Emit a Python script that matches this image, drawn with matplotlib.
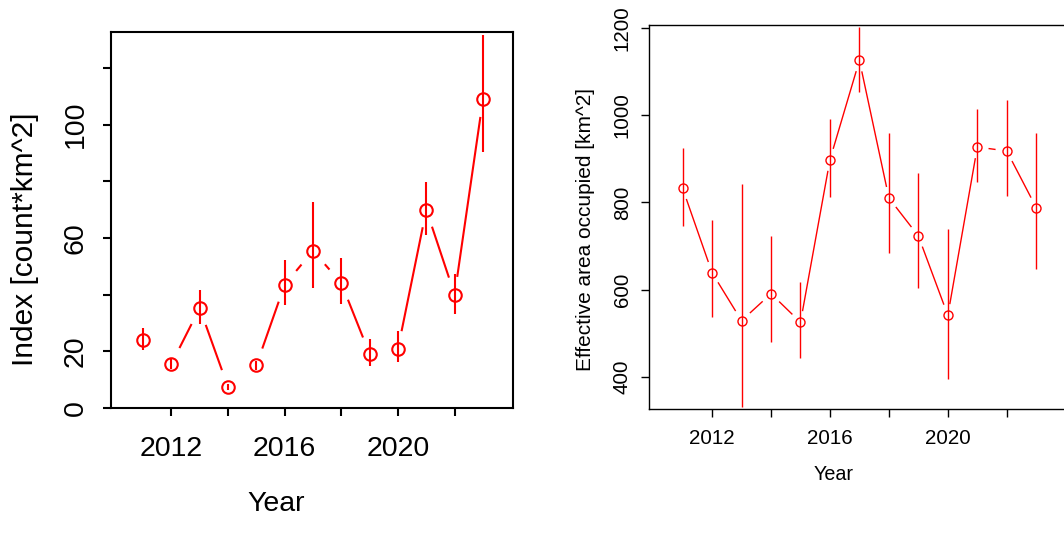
import matplotlib
matplotlib.use("Agg")
import matplotlib.pyplot as plt
import numpy as np

plt.rcParams['font.family'] = ['Liberation Sans', 'DejaVu Sans']

years = [2011, 2012, 2013, 2014, 2015, 2016, 2017, 2018, 2019, 2020, 2021, 2022, 2023]

# abundance index with interval
index_est = [24.1, 15.5, 35.3, 7.4, 15.0, 43.5, 55.5, 44.1, 19.0, 20.9, 70.0, 40.0, 109.0]
index_lo = [20.3, 13.9, 29.7, 6.5, 13.5, 36.4, 42.3, 36.8, 14.9, 16.2, 61.1, 33.2, 90.3]
index_hi = [28.2, 17.3, 41.7, 8.5, 16.5, 52.1, 72.7, 52.9, 24.3, 27.0, 79.9, 47.4, 131.7]

# effective area occupied with interval
area_est = [832.6, 638.8, 528.6, 590.6, 524.9, 898.3, 1126.5, 810.3, 723.1, 541.0, 927.4, 918.3, 788.1]
area_lo = [746.0, 536.4, 331.1, 480.4, 443.6, 813.3, 1053.0, 683.3, 604.4, 395.4, 847.0, 815.0, 648.0]
area_hi = [925.8, 759.8, 841.8, 723.1, 618.2, 991.7, 1203.7, 958.9, 867.0, 738.5, 1014.0, 1035.4, 958.9]

x_ticks = [2012, 2014, 2016, 2018, 2020, 2022]
x_ticklabels = ['2012', '', '2016', '', '2020', '']


def gapped_lines(ax, x, y, gap, **kw):
    # connect points like R's type="b": leave a gap around each point
    pts = ax.transData.transform(np.column_stack([x, y]))
    inv = ax.transData.inverted()
    for p0, p1 in zip(pts[:-1], pts[1:]):
        d = p1 - p0
        length = np.hypot(*d)
        if length <= 2 * gap:
            continue
        u = d / length
        a = inv.transform(p0 + u * gap)
        b = inv.transform(p1 - u * gap)
        ax.plot([a[0], b[0]], [a[1], b[1]], **kw)


fig = plt.figure(figsize=(10.64, 5.36), dpi=100)

# left panel
ax1 = fig.add_axes([111 / 1064, 1 - 408 / 536, 402 / 1064, 376 / 536])
ax1.set_xlim(2009.87, 2024.06)
ax1.set_ylim(0, 132.7)
ax1.vlines(years, index_lo, index_hi, color='red', lw=1.5)
ax1.plot(years, index_est, 'o', mfc='none', mec='red', ms=9, mew=1.5)
gapped_lines(ax1, years, index_est, 19, color='red', lw=1.5)
ax1.set_xticks(x_ticks)
ax1.set_xticklabels(x_ticklabels)
ax1.set_yticks([0, 20, 40, 60, 80, 100, 120])
ax1.set_yticklabels(['0', '20', '', '60', '', '100', ''])
ax1.tick_params(axis='both', length=6, width=1.5, labelsize=20.5)
ax1.tick_params(axis='x', pad=14)
ax1.tick_params(axis='y', pad=10, labelrotation=90)
for t in ax1.get_yticklabels():
    t.set_va('center')
for s in ax1.spines.values():
    s.set_linewidth(1.5)
ax1.set_xlabel('Year', fontsize=20.5, va='baseline')
ax1.xaxis.set_label_coords(0.412, -0.274)
ax1.set_ylabel('Index [count*km^2]', fontsize=21.5, va='center')
ax1.yaxis.set_label_coords(-0.214, 0.449)

# right panel
ax2 = fig.add_axes([649.3 / 1064, 1 - 409 / 536, 418.2 / 1064, 384 / 536])
ax2.set_xlim(2009.87, 2024.06)
ax2.set_ylim(325.8, 1207.6)
ax2.vlines(years, area_lo, area_hi, color='red', lw=1.0)
ax2.plot(years, area_est, 'o', mfc='none', mec='red', ms=6.5, mew=1.0)
gapped_lines(ax2, years, area_est, 12, color='red', lw=1.0)
ax2.set_xticks(x_ticks)
ax2.set_xticklabels(x_ticklabels)
ax2.set_yticks([400, 600, 800, 1000, 1200])
ax2.tick_params(axis='both', length=5.5, width=1.0, labelsize=14.8)
ax2.tick_params(axis='x', pad=9)
ax2.tick_params(axis='y', pad=7, labelrotation=90)
for t in ax2.get_yticklabels():
    t.set_va('center')
for s in ax2.spines.values():
    s.set_linewidth(1.0)
ax2.set_xlabel('Year', fontsize=14.2, va='baseline')
ax2.xaxis.set_label_coords(0.441, -0.185)
ax2.set_ylabel('Effective area occupied [km^2]', fontsize=15, va='center')
ax2.yaxis.set_label_coords(-0.152, 0.4674)

fig.savefig('out.png', dpi=100)
